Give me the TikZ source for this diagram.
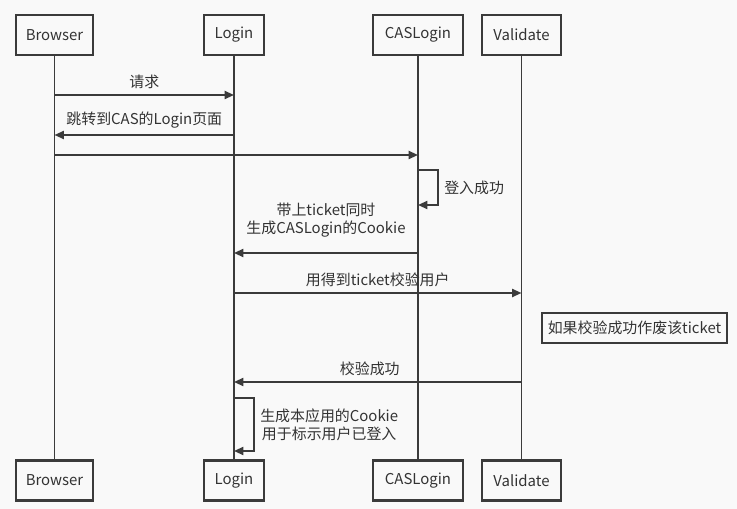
\documentclass[tikz,border=0pt]{standalone}
\usepackage{fontspec}
\setmainfont{Noto Sans CJK SC}
\usepackage{xcolor}
\usetikzlibrary{arrows.meta}
\definecolor{seqink}{HTML}{3B3B3B}
\definecolor{seqtext}{HTML}{333333}
\definecolor{seqpaper}{HTML}{F9F9F9}

\begin{document}
\begin{tikzpicture}[x=0.75pt, y=-0.75pt, line join=miter,
    actor/.style={rectangle, draw=seqink, fill=seqpaper, line width=1.6pt,
                  minimum height=30pt, inner sep=0pt, text=seqtext,
                  font=\fontsize{11.2}{12}\selectfont},
    life/.style={draw=seqink, line width=1.4pt},
    msg/.style={draw=seqink, line width=1.4pt, -{Triangle[length=7pt, width=6pt]}},
    say/.style={text=seqtext, inner sep=1pt, align=center,
                font=\fontsize{11.2}{13.5}\selectfont},
    note/.style={rectangle, draw=seqink, fill=seqpaper, line width=1.6pt,
                 minimum width=138.75pt, minimum height=22.5pt, inner sep=0pt,
                 text=seqtext, font=\fontsize{11.2}{12}\selectfont}]

  \fill[seqpaper] (0,0) rectangle (737,509);

  % ---- participants, top and bottom, joined by their lifelines -------------
  \foreach \name/\x/\w in {Browser/54.5/77, Login/234/60, CASLogin/418/90,
                           Validate/521.5/79}{
    \node[actor, minimum width=\w*0.75pt] (t\name) at (\x,35) {\name};
    \node[actor, minimum width=\w*0.75pt] (b\name) at (\x,480.5) {\name};
    \draw[life] (t\name) -- (b\name);}

  % ---- heights of the messages ---------------------------------------------
  \foreach \n/\y in {1/95, 2/135, 3/155, 4/253, 5/293, 6/382}{
    \coordinate (m\n) at (0,\y);}
  \foreach \n/\y in {1/170, 2/205, 3/398, 4/451}{
    \coordinate (s\n) at (0,\y);}

  % ---- messages -------------------------------------------------------------
  \draw[msg] (tBrowser |- m1) -- node[say, above=3pt] (l1) {请求} (tLogin |- m1);
  \draw[msg] (tLogin |- m2) -- node[say, above=3pt] (l2) {跳转到CAS的Login页面} (tBrowser |- m2);
  \draw[msg] (tBrowser |- m3) -- (tCASLogin |- m3);
  \draw[msg] (tCASLogin |- s1) -- ++(20,0)
    |- node[say, pos=0.25, right=3pt] (l3) {登入成功} (tCASLogin |- s2);
  \draw[msg] (tCASLogin |- m4) -- node[say, above=10pt] (l4) {带上ticket同时\\生成CASLogin的Cookie} (tLogin |- m4);
  \draw[msg] (tLogin |- m5) -- node[say, above=3pt] (l5) {用得到ticket校验用户} (tValidate |- m5);
  \node[note] (n1) at (634.5,328) {如果校验成功作废该ticket};
  \draw[msg] (tValidate |- m6) -- node[say, above=3pt, xshift=-6pt] (l6) {校验成功} (tLogin |- m6);
  \draw[msg] (tLogin |- s3) -- ++(20,0)
    |- node[say, pos=0.25, right=3pt] (l7) {生成本应用的Cookie\\用于标示用户已登入} (tLogin |- s4);
\end{tikzpicture}
\end{document}
